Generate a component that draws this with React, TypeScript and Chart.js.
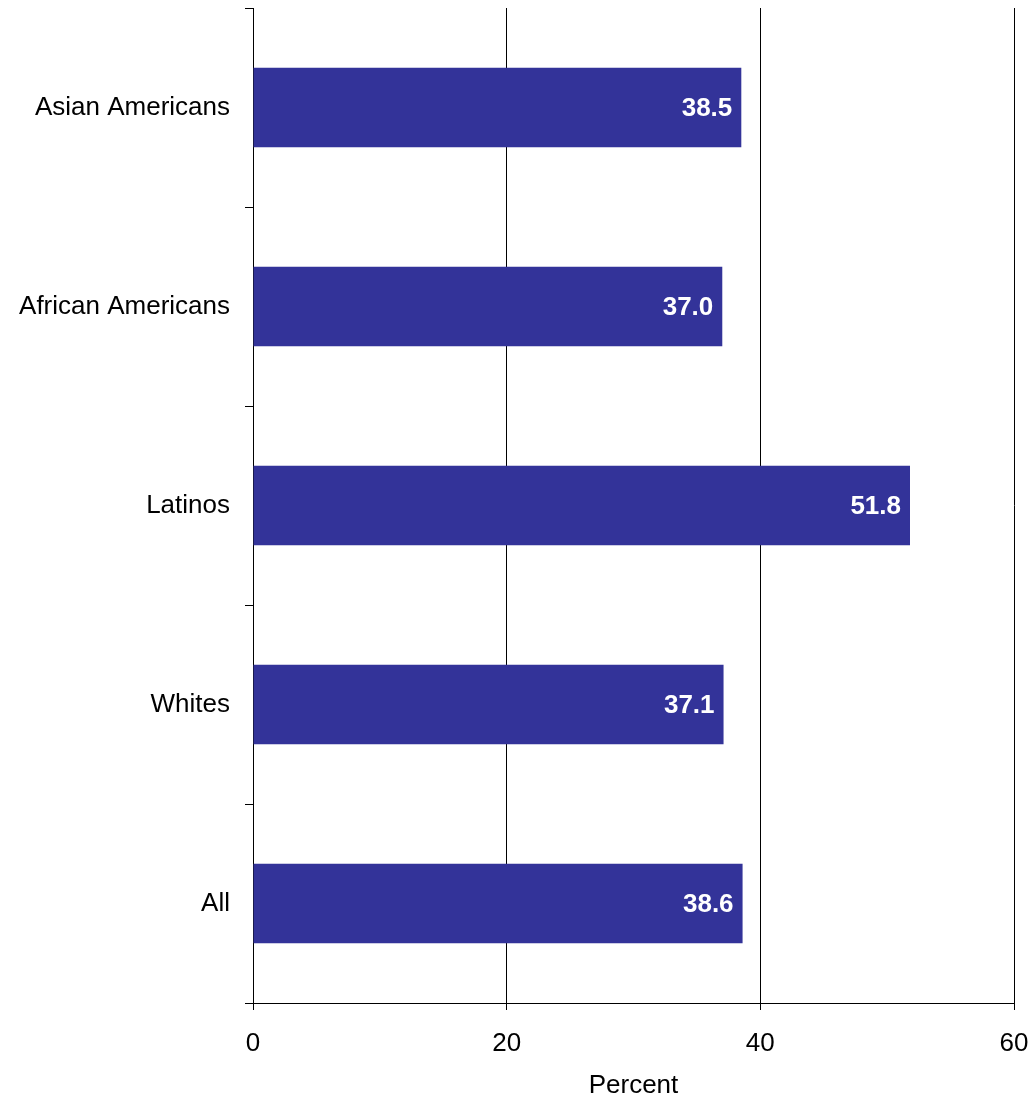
import React, { useEffect, useRef } from "react";
import { Chart, registerables } from "chart.js";

Chart.register(...registerables);

const categories = ["Asian Americans", "African Americans", "Latinos", "Whites", "All"];
const values = [38.5, 37.0, 51.8, 37.1, 38.6];
const xTicks = [0, 20, 40, 60];
const axisTitle = "Percent";

const FONT = "'Liberation Sans', Arial, sans-serif";

const valueLabels = {
  id: "valueLabels",
  afterDatasetsDraw(chart: any) {
    const ctx = chart.ctx;
    const meta = chart.getDatasetMeta(0);
    ctx.save();
    ctx.fillStyle = "#ffffff";
    ctx.font = `bold 26px ${FONT}`;
    ctx.textAlign = "right";
    ctx.textBaseline = "middle";
    meta.data.forEach((bar: any, i: number) => {
      ctx.fillText(values[i].toFixed(1), bar.x - 9, bar.y + 1);
    });
    ctx.restore();
  },
};

export default function App() {
  const ref = useRef<HTMLCanvasElement | null>(null);
  useEffect(() => {
    if (!ref.current) return;
    const chart = new Chart(ref.current, {
      type: "bar",
      data: {
        labels: categories,
        datasets: [
          {
            data: values,
            backgroundColor: "#333399",
            borderWidth: 0,
            barPercentage: 0.4,
            categoryPercentage: 1,
          },
        ],
      },
      plugins: [valueLabels],
      options: {
        indexAxis: "y",
        animation: false,
        responsive: false,
        maintainAspectRatio: false,
        layout: { padding: { top: 8, right: 17, bottom: 0, left: 0 } },
        plugins: { legend: { display: false }, tooltip: { enabled: false } },
        scales: {
          x: {
            type: "linear",
            min: 0,
            max: 60,
            afterBuildTicks: (s: any) => {
              s.ticks = xTicks.map((v) => ({ value: v }));
            },
            afterFit: (s: any) => {
              s.height = 98;
              s.paddingLeft = 0;
              s.paddingRight = 0;
              s.paddingTop = 0;
              s.paddingBottom = 0;
            },
            grid: { color: "#000", lineWidth: 1, drawTicks: true, tickLength: 7 },
            border: { display: true, color: "#000", width: 1 },
            ticks: {
              color: "#000",
              padding: 18,
              maxRotation: 0,
              font: { family: FONT, size: 26 },
            },
            title: {
              display: true,
              text: axisTitle,
              color: "#000",
              font: { family: FONT, size: 26, lineHeight: 1.2 },
              padding: 0,
            },
          },
          y: {
            type: "category",
            afterFit: (s: any) => {
              s.width = 253;
              s.paddingLeft = 0;
              s.paddingRight = 0;
              s.paddingTop = 0;
              s.paddingBottom = 0;
            },
            grid: {
              offset: true,
              drawOnChartArea: false,
              drawTicks: true,
              tickLength: 8,
              color: "#000",
            },
            border: { display: true, color: "#000", width: 1 },
            ticks: {
              color: "#000",
              padding: 15,
              font: { family: FONT, size: 26 },
            },
          },
        },
      },
    } as any);
    return () => chart.destroy();
  }, []);
  return (
    <div style={{ position: "absolute", left: 0, top: 0, width: 1031, height: 1101, background: "#fff" }}>
      <canvas ref={ref} width={1031} height={1101} style={{ display: "block" }} />
    </div>
  );
}
